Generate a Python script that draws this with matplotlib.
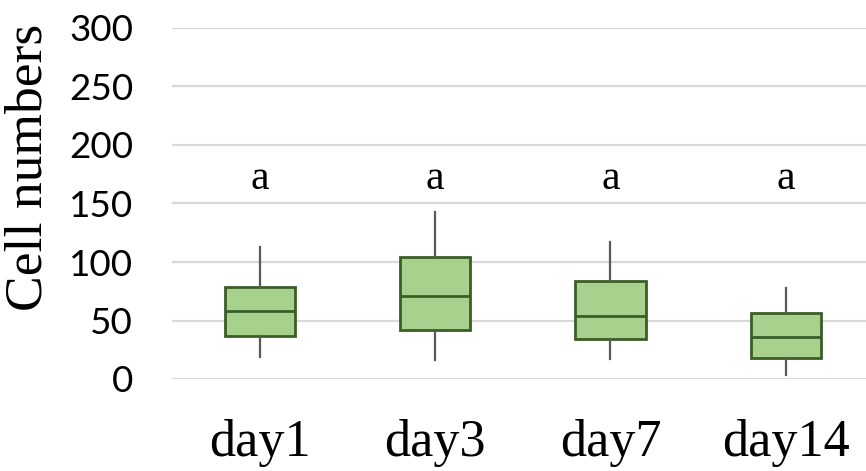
import matplotlib
matplotlib.use("Agg")
import matplotlib.pyplot as plt

categories = ["day1", "day3", "day7", "day14"]
whisker_low = [18.5, 16, 17, 3]
q1 = [36.7, 42, 34, 18]
median = [58, 70.7, 53.8, 36]
q3 = [79, 104, 84, 56]
whisker_high = [112.5, 142.5, 117.5, 77.5]
letters = ["a", "a", "a", "a"]
letter_y = 162
yticks = [0, 50, 100, 150, 200, 250, 300]

W, H = 866, 471
fig = plt.figure(figsize=(W / 100, H / 100), dpi=100)
ax = fig.add_axes([172 / W, (H - 379) / H, (873.5 - 172) / W, 351 / H])

stats = []
for i, c in enumerate(categories):
    stats.append(dict(label=c, whislo=whisker_low[i], q1=q1[i], med=median[i],
                      q3=q3[i], whishi=whisker_high[i], fliers=[]))

positions = list(range(1, len(categories) + 1))
ax.bxp(stats, positions=positions, widths=0.40, patch_artist=True, showcaps=False,
       showfliers=False,
       boxprops=dict(facecolor="#a9d18e", edgecolor="#3b5e26", linewidth=2),
       medianprops=dict(color="#3b5e26", linewidth=2),
       whiskerprops=dict(color="#595959", linewidth=1.6),
       zorder=3)

ax.set_xlim(0.5, len(categories) + 0.5)
ax.set_ylim(0, 300)
ax.set_yticks(yticks)
ax.set_yticklabels([str(v) for v in yticks], fontfamily="Lato", fontsize=26.5)
ax.set_xticks(positions)
ax.set_xticklabels(categories, fontfamily="Liberation Serif", fontsize=37.5)
ax.tick_params(axis="y", length=0, pad=28)
ax.tick_params(axis="x", length=0, pad=29)
ax.yaxis.grid(True, color="#d9d9d9", linewidth=1.6, zorder=0)
ax.set_axisbelow(True)
for s in ax.spines.values():
    s.set_visible(False)

for p, t in zip(positions, letters):
    ax.text(p, letter_y, t, ha="center", va="baseline",
            fontfamily="Liberation Serif", fontsize=30)

fig.text(29 / W, 1 - 167.5 / H, "Cell numbers", rotation=90, ha="center",
         va="center", fontfamily="Liberation Serif", fontsize=38.5)

fig.savefig("out.png", dpi=100)
